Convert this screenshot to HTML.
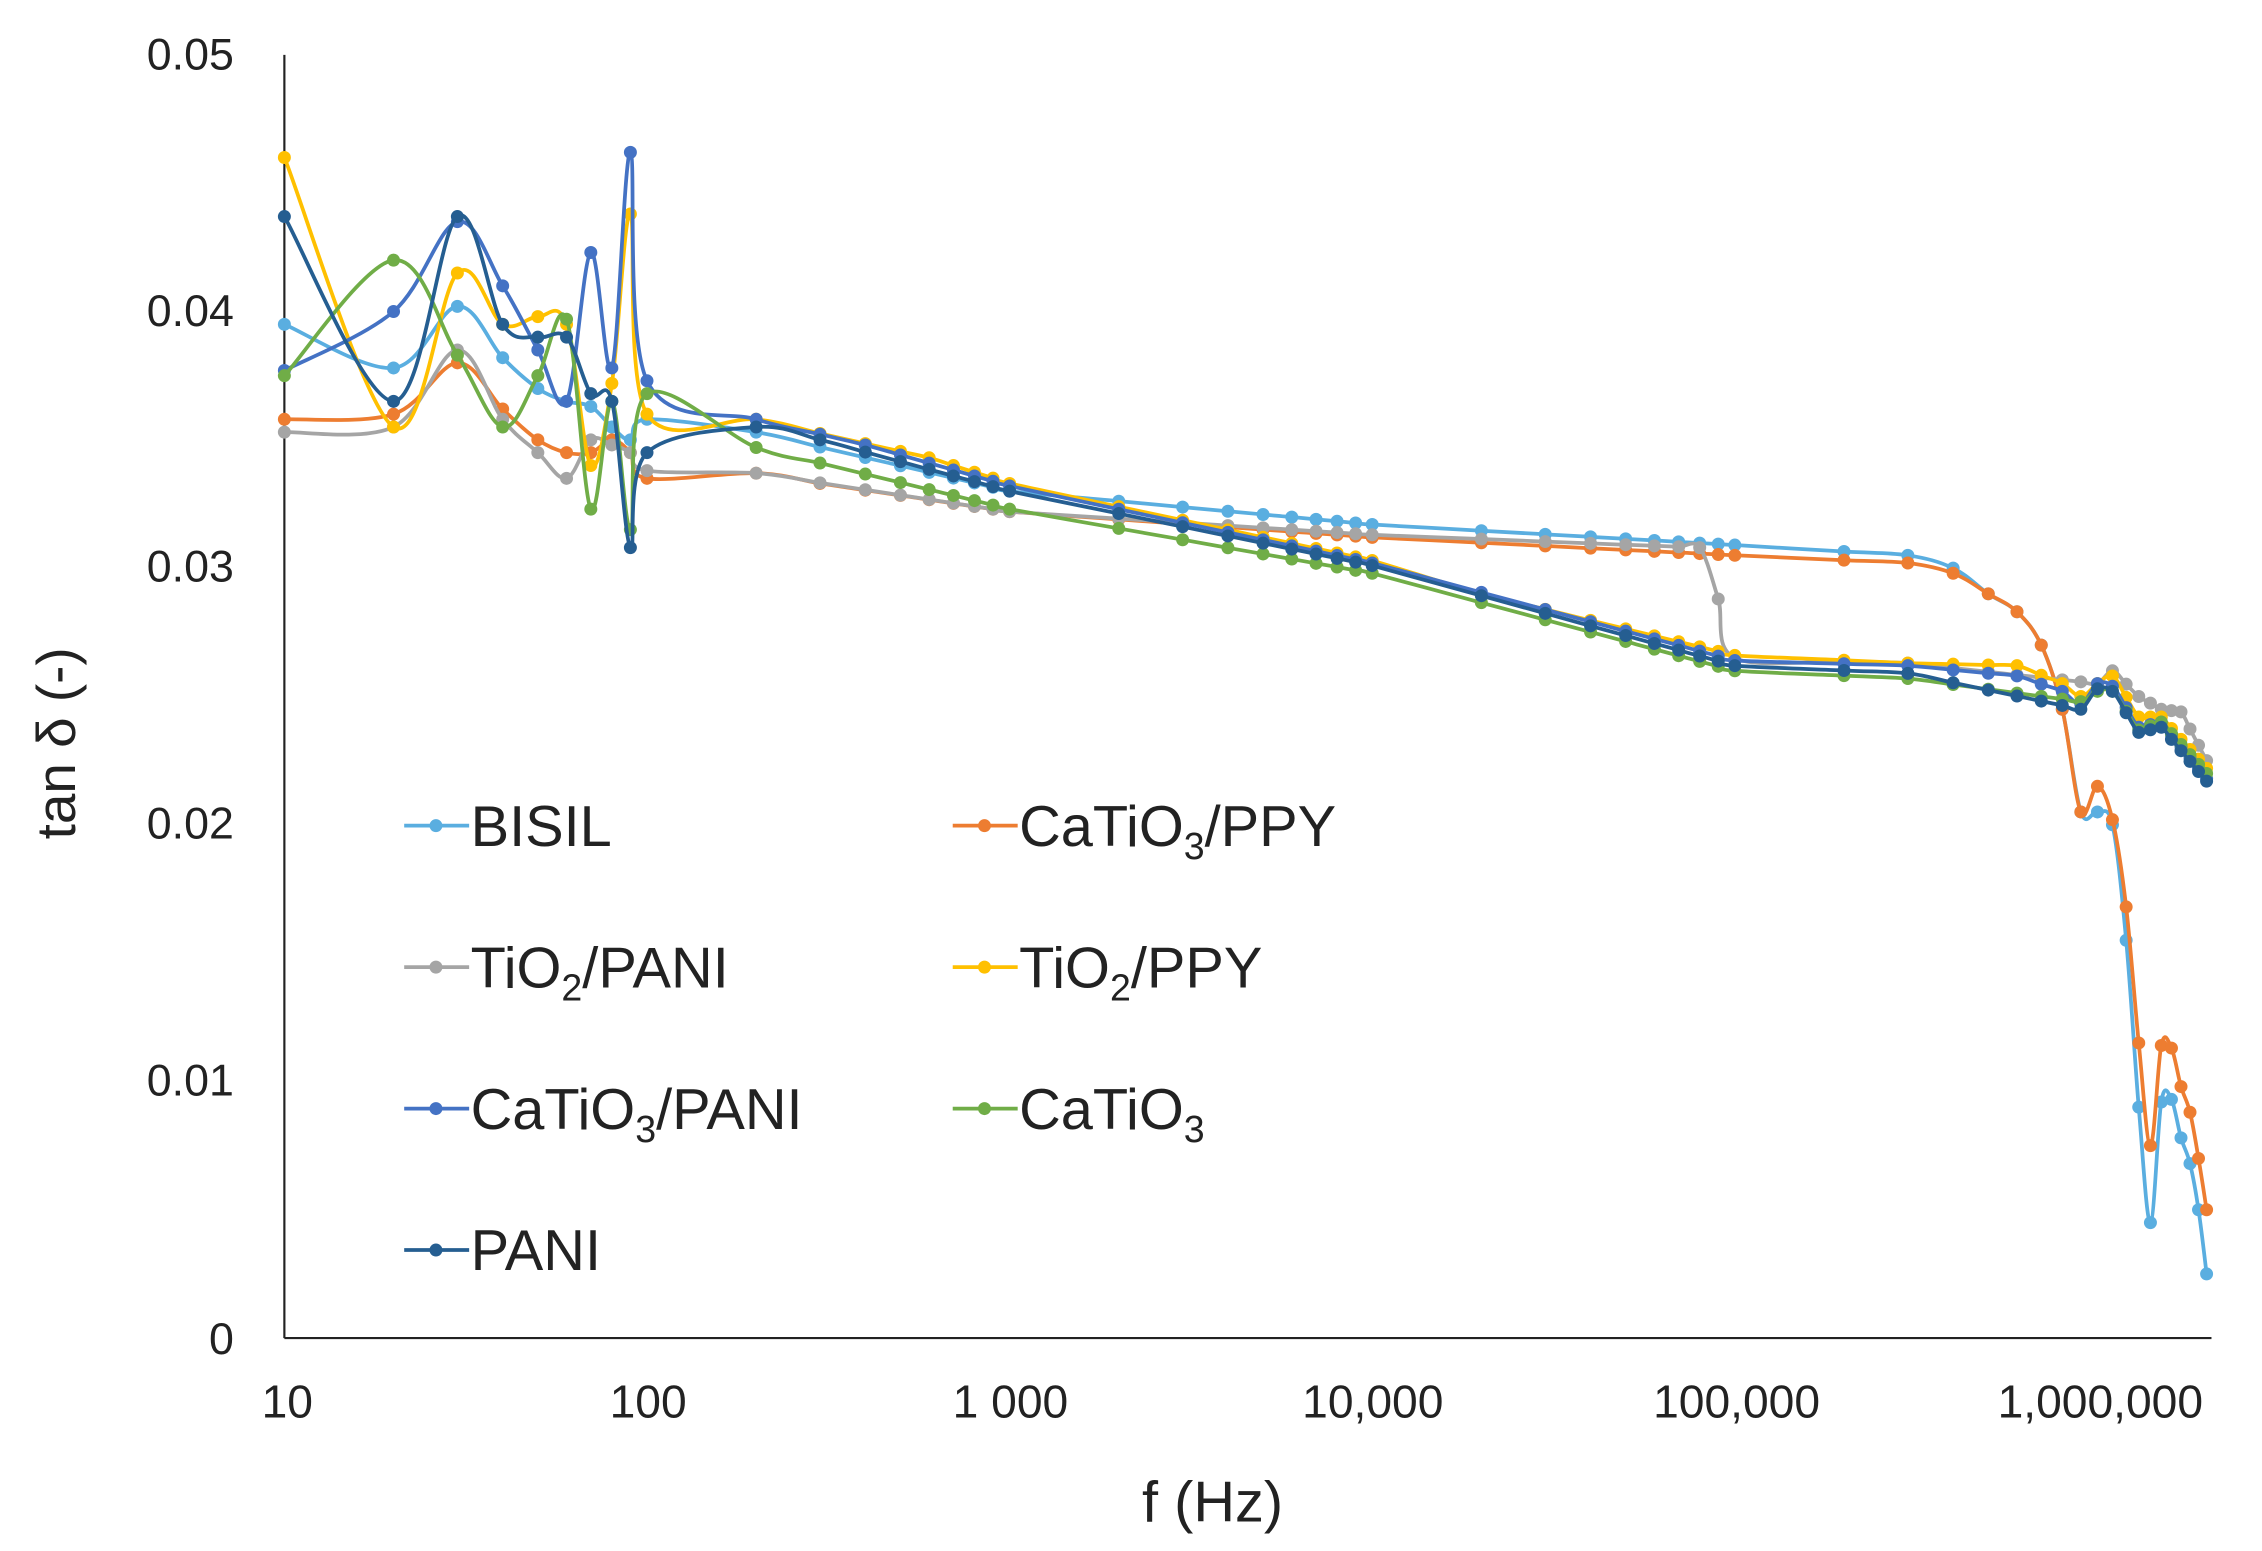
<!DOCTYPE html>
<html><head><meta charset="utf-8"><style>
html,body{margin:0;padding:0;background:#fff;}
svg{display:block;}
text{font-family:"Liberation Sans",sans-serif;fill:#222;}
</style></head><body>
<svg id="c" width="2262" height="1551" viewBox="0 0 1567 1074.5" preserveAspectRatio="none" xmlns="http://www.w3.org/2000/svg">
<g font-size="31" text-anchor="end">
<text x="162" y="48">0.05</text>
<text x="162" y="226">0.04</text>
<text x="162" y="403">0.03</text>
<text x="162" y="581">0.02</text>
<text x="162" y="759">0.01</text>
<text x="162" y="938">0</text>
</g>
<g font-size="32" text-anchor="middle">
<text x="199" y="982">10</text>
<text x="449" y="982">100</text>
<text x="700" y="982">1 000</text>
<text x="951" y="982">10,000</text>
<text x="1203" y="982">100,000</text>
<text x="1455" y="982">1,000,000</text>
</g>
<text x="840" y="1054" font-size="40" text-anchor="middle">f (Hz)</text>
<text transform="translate(52,515) rotate(-90)" font-size="38" text-anchor="middle">tan δ (-)</text>
<line x1="197" y1="38" x2="197" y2="927" stroke="#222" stroke-width="1.5"/>
<line x1="197" y1="927" x2="1532" y2="927" stroke="#222" stroke-width="1.5"/>
<g id="series"></g>
<g font-size="40">
<text x="326" y="586">BISIL</text>
<text x="706" y="586">CaTiO<tspan font-size="26" dy="9">3</tspan><tspan dy="-9">/PPY</tspan></text>
<text x="326" y="684">TiO<tspan font-size="26" dy="9">2</tspan><tspan dy="-9">/PANI</tspan></text>
<text x="706" y="684">TiO<tspan font-size="26" dy="9">2</tspan><tspan dy="-9">/PPY</tspan></text>
<text x="326" y="782">CaTiO<tspan font-size="26" dy="9">3</tspan><tspan dy="-9">/PANI</tspan></text>
<text x="706" y="782">CaTiO<tspan font-size="26" dy="9">3</tspan></text>
<text x="326" y="880">PANI</text>
</g>
<g id="leg"></g>
</svg>
<script>
var NS="http://www.w3.org/2000/svg";
function X(f){return 197+251.2*(Math.log10(f)-1);}
function Y(v){return 927-v*17780;}
var F=[];
for(var i=10;i<=100;i+=10)F.push(i);
for(i=200;i<=1000;i+=100)F.push(i);
for(i=2000;i<=10000;i+=1000)F.push(i);
for(i=20000;i<=100000;i+=10000)F.push(i);
for(i=200000;i<=1000000;i+=100000)F.push(i);
for(i=1100000;i<=2000000;i+=100000)F.push(i);
var S=[
["#5aaee0",[[10,.0395],[20,.0378],[30,.0402],[40,.0382],[50,.037],[60,.0365],[70,.0363],[80,.0355],[90,.035],[100,.0358],[200,.0353],[1000,.033],[10000,.0317],[100000,.0309],[300000,.0305],[400000,.030],[500000,.029],[600000,.0283],[700000,.027],[800000,.0245],[900000,.0205],[1e6,.0205],[1.1e6,.020],[1.2e6,.0155],[1.3e6,.009],[1.4e6,.0045],[1.5e6,.0092],[1.6e6,.0093],[1.7e6,.0078],[1.8e6,.0068],[1.9e6,.005],[2e6,.0025]]],
["#ed7d31",[[10,.0358],[20,.036],[30,.038],[40,.0362],[50,.035],[60,.0345],[70,.0345],[80,.035],[90,.0345],[100,.0335],[200,.0337],[300,.0333],[1000,.0322],[10000,.0312],[100000,.0305],[300000,.0302],[400000,.0298],[500000,.029],[600000,.0283],[700000,.027],[800000,.0245],[900000,.0205],[1e6,.0215],[1.1e6,.0202],[1.2e6,.0168],[1.3e6,.0115],[1.4e6,.0075],[1.5e6,.0114],[1.6e6,.0113],[1.7e6,.0098],[1.8e6,.0088],[1.9e6,.007],[2e6,.005]]],
["#a5a5a5",[[10,.0353],[20,.0355],[30,.0385],[40,.0358],[50,.0345],[60,.0335],[70,.035],[80,.0348],[90,.0345],[100,.0338],[200,.0337],[1000,.0322],[10000,.0313],[80000,.0308],[90000,.0288],[100000,.0265],[300000,.0263],[1e6,.0255],[1.1e6,.026],[1.3e6,.025],[1.5e6,.0245],[1.7e6,.0244],[2e6,.0225]]],
["#ffc000",[[10,.046],[20,.0355],[30,.0415],[40,.0395],[50,.0398],[60,.0395],[70,.034],[80,.0372],[90,.0438],[100,.036],[200,.0358],[600,.0343],[1000,.0333],[10000,.0303],[20000,.029],[100000,.0266],[300000,.0263],[600000,.0262],[800000,.0255],[900000,.025],[1e6,.0255],[1.1e6,.0258],[1.3e6,.0242],[1.5e6,.0242],[2e6,.0222]]],
["#4472c4",[[10,.0377],[20,.040],[30,.0435],[40,.041],[50,.0385],[60,.0365],[70,.0423],[80,.0378],[90,.0462],[100,.0373],[200,.0358],[400,.0348],[1000,.0332],[10000,.0302],[100000,.0264],[300000,.0262],[600000,.0258],[800000,.0252],[900000,.0247],[1e6,.0255],[1.1e6,.0254],[1.3e6,.0238],[1.5e6,.024],[2e6,.0218]]],
["#70ad47",[[10,.0375],[20,.042],[30,.0383],[40,.0355],[50,.0375],[60,.0397],[70,.0323],[80,.0365],[90,.0315],[100,.0368],[200,.0347],[1000,.0323],[10000,.0298],[100000,.026],[300000,.0257],[900000,.0248],[1e6,.0252],[1.1e6,.0252],[1.3e6,.0237],[1.5e6,.024],[2e6,.022]]],
["#255e91",[[10,.0437],[20,.0365],[30,.0437],[40,.0395],[50,.039],[60,.039],[70,.0368],[80,.0365],[90,.0308],[100,.0345],[200,.0355],[300,.035],[1000,.033],[10000,.0301],[100000,.0262],[300000,.0259],[900000,.0245],[1e6,.0253],[1.1e6,.0252],[1.3e6,.0236],[1.5e6,.0238],[2e6,.0217]]]
];
function interp(d,f){var lf=Math.log10(f);for(var k=0;k<d.length-1;k++){var a=Math.log10(d[k][0]),b=Math.log10(d[k+1][0]);if(lf>=a-1e-9&&lf<=b+1e-9){return d[k][1]+(d[k+1][1]-d[k][1])*(lf-a)/(b-a);}}return d[d.length-1][1];}
function smooth(p){var d="M"+p[0][0].toFixed(1)+","+p[0][1].toFixed(1);var t=0.17;
 for(var i=0;i<p.length-1;i++){var p0=p[i>0?i-1:i],p1=p[i],p2=p[i+1],p3=p[i+2<p.length?i+2:i+1];
  var c1x=p1[0]+(p2[0]-p0[0])*t,c1y=p1[1]+(p2[1]-p0[1])*t,c2x=p2[0]-(p3[0]-p1[0])*t,c2y=p2[1]-(p3[1]-p1[1])*t;
  d+=" C"+c1x.toFixed(1)+","+c1y.toFixed(1)+" "+c2x.toFixed(1)+","+c2y.toFixed(1)+" "+p2[0].toFixed(1)+","+p2[1].toFixed(1);}
 return d;}
var g=document.getElementById("series");
S.forEach(function(s){
 var pts=F.map(function(f){return [X(f),Y(interp(s[1],f))];});
 var p=document.createElementNS(NS,"path");
 p.setAttribute("d",smooth(pts));
 p.setAttribute("fill","none");p.setAttribute("stroke",s[0]);p.setAttribute("stroke-width","2.6");p.setAttribute("stroke-linejoin","round");
 g.appendChild(p);
 pts.forEach(function(q){var c=document.createElementNS(NS,"circle");c.setAttribute("cx",q[0]);c.setAttribute("cy",q[1]);c.setAttribute("r","4.5");c.setAttribute("fill",s[0]);g.appendChild(c);});
});
var L=[[0,280,572],[1,660,572],[2,280,670],[3,660,670],[4,280,768],[5,660,768],[6,280,866]];
var lg=document.getElementById("leg");
L.forEach(function(l){var col=S[l[0]][0];
 var ln=document.createElementNS(NS,"line");ln.setAttribute("x1",l[1]);ln.setAttribute("x2",l[1]+45);ln.setAttribute("y1",l[2]);ln.setAttribute("y2",l[2]);ln.setAttribute("stroke",col);ln.setAttribute("stroke-width","2.6");lg.appendChild(ln);
 var c=document.createElementNS(NS,"circle");c.setAttribute("cx",l[1]+22);c.setAttribute("cy",l[2]);c.setAttribute("r","4.5");c.setAttribute("fill",col);lg.appendChild(c);});
</script>
</body></html>
